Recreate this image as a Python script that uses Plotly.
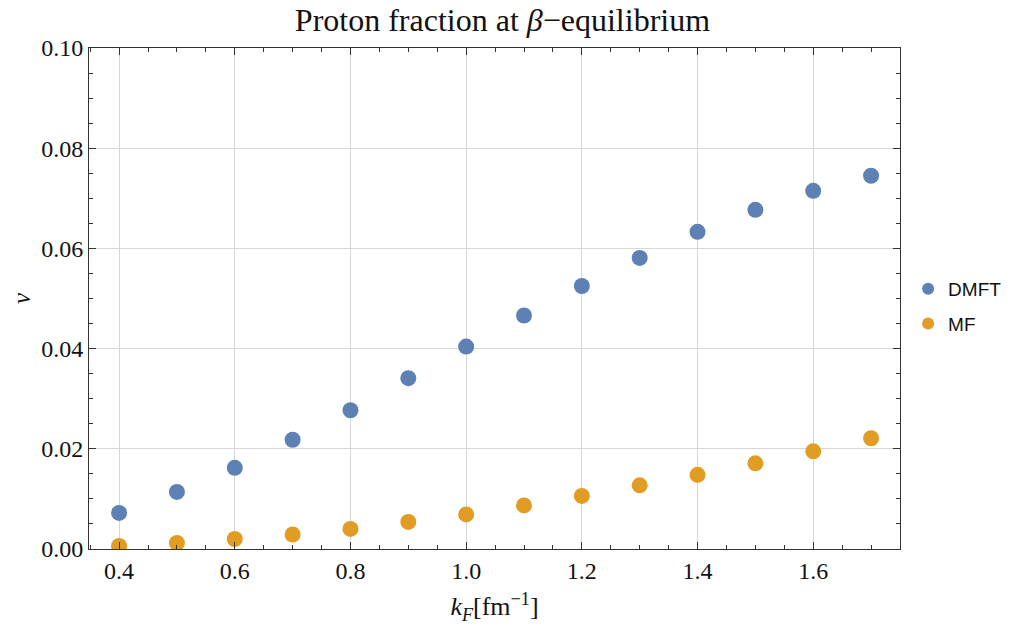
import plotly.graph_objects as go

kF = [0.4, 0.5, 0.6, 0.7, 0.8, 0.9, 1.0, 1.1, 1.2, 1.3, 1.4, 1.5, 1.6, 1.7]
dmft = [0.0072, 0.0114, 0.0162, 0.0218, 0.0277, 0.0341, 0.0404, 0.0466, 0.0525, 0.0581, 0.0633, 0.0677, 0.0715, 0.0745]
mf = [0.0006, 0.0012, 0.0020, 0.0029, 0.0040, 0.0054, 0.0069, 0.0087, 0.0106, 0.0127, 0.0148, 0.0171, 0.0195, 0.0221]
xticks = [0.4, 0.6, 0.8, 1.0, 1.2, 1.4, 1.6]
xticklabels = ["0.4", "0.6", "0.8", "1.0", "1.2", "1.4", "1.6"]
yticks = [0.0, 0.02, 0.04, 0.06, 0.08, 0.10]
yticklabels = ["0.00", "0.02", "0.04", "0.06", "0.08", "0.10"]

blue = "#5E81B5"
orange = "#E19C24"
serif = "Liberation Serif, DejaVu Serif, serif"

fig = go.Figure()
fig.add_trace(go.Scatter(x=kF, y=dmft, mode="markers", name="DMFT", legendgroup="a",
                         marker=dict(color=blue, size=16, line=dict(width=0))))
fig.add_trace(go.Scatter(x=kF, y=mf, mode="markers", name="MF", legendgroup="b",
                         marker=dict(color=orange, size=16, line=dict(width=0))))

axis_common = dict(
    showline=True, linecolor="#333333", linewidth=1, mirror="allticks",
    ticks="inside", ticklen=7, tickcolor="#333333", tickwidth=1,
    showgrid=True, gridcolor="#d6d6d6", gridwidth=1, zeroline=False,
    tickfont=dict(family=serif, size=24, color="#111111"),
)

fig.update_xaxes(range=[0.348, 1.75], tickvals=xticks, ticktext=xticklabels,
                 minor=dict(dtick=0.05, tick0=0.4, ticklen=4, ticks="inside", tickcolor="#333333", showgrid=False),
                 title=dict(text="<i>k<sub>F</sub></i>[fm<sup>−1</sup>]", font=dict(family=serif, size=26, color="#111111"), standoff=14),
                 **axis_common)
fig.update_yaxes(range=[0, 0.1], tickvals=yticks, ticktext=yticklabels,
                 minor=dict(dtick=0.005, tick0=0, ticklen=4, ticks="inside", tickcolor="#333333", showgrid=False),
                 title=dict(text="<i>ν</i>", font=dict(family=serif, size=25, color="#111111"), standoff=24),
                 **axis_common)

fig.update_layout(
    width=1012, height=628,
    paper_bgcolor="white", plot_bgcolor="white",
    margin=dict(l=81, r=120, t=40, b=87, autoexpand=False),
    title=dict(text="Proton fraction at <i>β</i>−equilibrium", x=0.4886, xanchor="center",
               y=1 - 12 / 628, yanchor="middle",
               font=dict(family=serif, size=32, color="#111111")),
    legend=dict(x=1.01, y=0.484, xanchor="left", yanchor="middle",
                font=dict(family="Liberation Sans, Arial, sans-serif", size=19, color="#111111"),
                itemsizing="constant", tracegroupgap=7, bgcolor="rgba(0,0,0,0)"),
    showlegend=True,
)

fig.write_html("out.html")
